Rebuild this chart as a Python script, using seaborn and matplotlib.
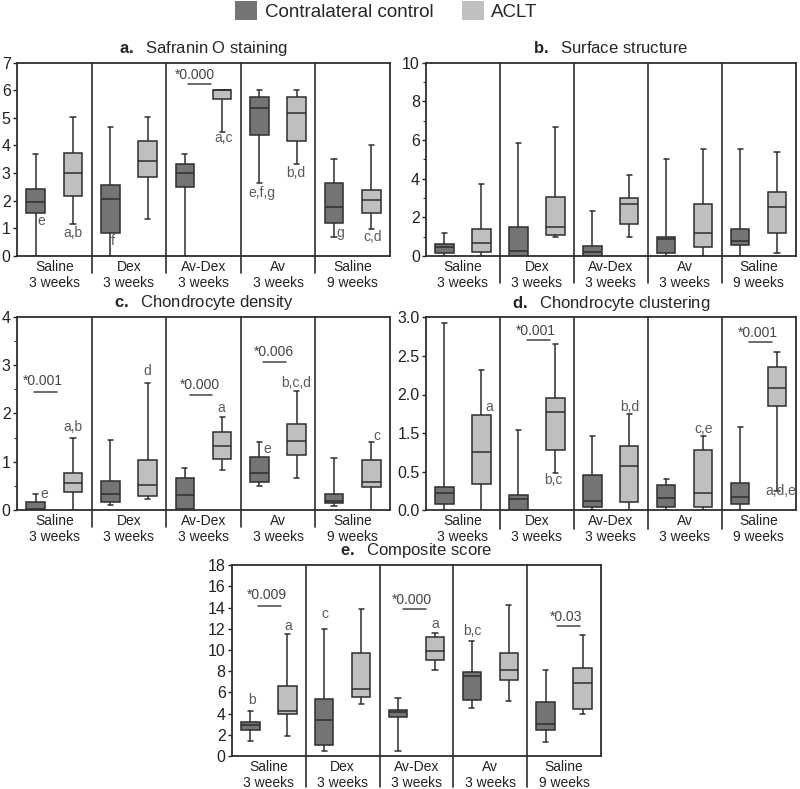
import numpy as np
import pandas as pd
import matplotlib
matplotlib.use("Agg")
import matplotlib.pyplot as plt
from matplotlib.patches import Patch
from matplotlib.ticker import MultipleLocator, FixedLocator
import seaborn as sns

# Groups and conditions
groups = ["Saline\n3 weeks", "Dex\n3 weeks", "Av-Dex\n3 weeks", "Av\n3 weeks", "Saline\n9 weeks"]
conds = ["Contralateral control", "ACLT"]

# five-number summaries: [min, q1, median, q3, max]
safranin_ctrl = [[0, 1.54, 1.94, 2.43, 3.68], [0, 0.84, 2.08, 2.56, 4.67], [0, 2.5, 3.0, 3.33, 3.68],
                 [2.66, 4.38, 5.35, 5.77, 6.0], [0.68, 1.21, 1.76, 2.63, 3.5]]
safranin_aclt = [[1.16, 2.17, 3.0, 3.72, 5.02], [1.34, 2.87, 3.43, 4.18, 5.02], [4.5, 5.67, 6.0, 6.0, 6.0],
                 [3.33, 4.18, 5.17, 5.77, 6.0], [0.99, 1.54, 2.02, 2.39, 4.0]]

surface_ctrl = [[0, 0.17, 0.48, 0.6, 1.17], [0, 0, 0.28, 1.5, 5.86], [0, 0, 0.19, 0.5, 2.34],
                [0, 0.17, 0.88, 1.0, 5.0], [0, 0.57, 0.79, 1.38, 5.53]]
surface_aclt = [[0, 0.22, 0.69, 1.38, 3.7], [0.98, 1.07, 1.52, 3.07, 6.69], [1.0, 1.67, 2.69, 3.0, 4.19],
                [0, 0.48, 1.19, 2.69, 5.53], [0.17, 1.19, 2.52, 3.29, 5.36]]

density_ctrl = [[0, 0, 0.02, 0.17, 0.33], [0.1, 0.16, 0.33, 0.6, 1.45], [0, 0.03, 0.32, 0.66, 0.87],
                [0.5, 0.57, 0.77, 1.1, 1.41], [0.08, 0.14, 0.19, 0.34, 1.08]]
density_aclt = [[0, 0.37, 0.55, 0.77, 1.5], [0.23, 0.3, 0.51, 1.03, 2.62], [0.82, 1.06, 1.32, 1.61, 1.92],
                [0.66, 1.13, 1.43, 1.79, 2.46], [0, 0.48, 0.57, 1.03, 1.41]]

clustering_ctrl = [[0, 0.1, 0.26, 0.365, 2.91], [0, 0, 0.17, 0.24, 1.24], [0, 0.05, 0.14, 0.54, 1.16],
                   [0, 0.05, 0.19, 0.39, 0.49], [0, 0.1, 0.21, 0.42, 1.3]]
clustering_aclt = [[0, 0.4, 0.9, 1.48, 2.18], [0.58, 0.94, 1.53, 1.75, 2.59], [0, 0.12, 0.69, 1.0, 1.5],
                   [0, 0.04, 0.27, 0.93, 1.15], [0.29, 1.62, 1.9, 2.23, 2.46]]

composite_ctrl = [[1.37, 2.43, 2.93, 3.21, 4.24], [0.5, 1.0, 3.37, 5.36, 12.0], [0.5, 3.68, 4.12, 4.3, 5.43],
                  [4.52, 5.3, 7.55, 7.95, 10.82], [1.34, 2.43, 3.06, 5.08, 8.11]]
composite_aclt = [[1.9, 3.93, 4.21, 6.58, 11.5], [4.93, 5.61, 6.3, 9.73, 13.88], [8.11, 9.01, 9.86, 11.26, 11.57],
                  [5.15, 7.17, 8.11, 9.67, 14.22], [3.93, 4.46, 6.86, 8.33, 11.38]]

# letters (x, y, text) and p-values (x, y, text, bar x0, bar x1, bar y)
safranin_letters = [(-0.18, 1.28, "e"), (0.25, 0.82, "a,b"), (0.79, 0.56, "f"), (2.27, 4.26, "a,c"),
                    (2.78, 2.29, "e,f,g"), (3.24, 3.02, "b,d"), (3.83, 0.82, "g"), (4.27, 0.70, "c,d")]
safranin_p = [(1.89, 6.55, "*0.000", 1.79, 2.10, 6.22)]

density_letters = [(-0.13, 0.34, "e"), (0.25, 1.72, "a,b"), (1.24, 2.88, "d"), (2.24, 2.12, "a"),
                   (3.24, 2.62, "b,c,d"), (2.85, 1.26, "e"), (4.32, 1.53, "c")]
density_p = [(-0.15, 2.66, "*0.001", -0.27, 0.04, 2.45), (1.95, 2.59, "*0.000", 1.82, 2.12, 2.39),
             (2.95, 3.26, "*0.006", 2.80, 3.10, 3.07)]

clustering_letters = [(0.35, 1.61, "a"), (1.23, 0.47, "b,c"), (2.25, 1.61, "b,d"), (3.26, 1.26, "c,e"),
                      (4.30, 0.29, "a,d,e")]
clustering_p = [(0.99, 2.79, "*0.001", 0.87, 1.18, 2.645), (3.99, 2.76, "*0.001", 3.87, 4.18, 2.62)]

composite_letters = [(-0.23, 5.24, "b"), (0.26, 12.26, "a"), (0.76, 13.35, "c"), (2.25, 12.41, "a"),
                     (2.76, 11.79, "b,c")]
composite_p = [(-0.03, 15.16, "*0.009", -0.15, 0.16, 14.13), (1.94, 14.75, "*0.000", 1.82, 2.13, 13.88),
               (4.03, 13.1, "*0.03", 3.90, 4.22, 12.23)]

dark = "#747474"
light = "#bfbfbf"
edge = "#2e2e2e"
palette = {conds[0]: dark, conds[1]: light}

sns.set_style("ticks")
plt.rcParams["font.family"] = ["Liberation Sans", "DejaVu Sans"]
plt.rcParams["mathtext.fontset"] = "custom"
plt.rcParams["mathtext.rm"] = "Liberation Sans"
plt.rcParams["mathtext.bf"] = "Liberation Sans:bold"


def long_frame(ctrl, aclt):
    rows = []
    for g, c, a in zip(groups, ctrl, aclt):
        for v in c:
            rows.append((g, conds[0], v))
        for v in a:
            rows.append((g, conds[1], v))
    return pd.DataFrame(rows, columns=["group", "cond", "value"])


def panel(ax, ctrl, aclt, letter, title, ylim, sep_drop, letters=(), pvals=()):
    df = long_frame(ctrl, aclt)
    sns.boxplot(data=df, x="group", y="value", hue="cond", order=groups, hue_order=conds,
                palette=palette, width=1.0, gap=0.5, whis=(0, 100), linecolor=edge,
                linewidth=1.1, fliersize=0, saturation=1, legend=False, ax=ax, capwidths=0.07)
    ax.set_xlim(-0.5, 4.5)
    ax.set_ylim(*ylim)
    for i in range(4):
        ax.axvline(i + 0.5, ymin=-sep_drop, ymax=1, clip_on=False, color=edge, lw=1.2)
    for s in ax.spines.values():
        s.set_visible(True)
        s.set_color(edge)
        s.set_linewidth(1.3)
    ax.set_xlabel("")
    ax.set_ylabel("")
    ax.tick_params(axis="x", length=0, pad=3, labelsize=10, colors="#222222")
    ax.tick_params(axis="y", which="major", length=3, width=1, pad=1.5, labelsize=11.5, colors="#222222")
    ax.tick_params(axis="y", which="minor", length=2, width=0.8)
    ax.set_title(r"$\mathbf{" + letter + ".}$  " + title, fontsize=12, pad=7)
    for x, y, t in letters:
        ax.text(x, y, t, ha="center", va="center", fontsize=10, color="#5a5a5a")
    for x, y, t, x0, x1, yb in pvals:
        ax.text(x, y, t, ha="center", va="center", fontsize=10, color="#444444")
        ax.plot([x0, x1], [yb, yb], color="#444444", lw=1.1)


fig = plt.figure(figsize=(8, 7.89), dpi=100)
ax_a = fig.add_axes([0.02125, 0.6755, 0.46625, 0.2452])
ax_b = fig.add_axes([0.5325, 0.6755, 0.4619, 0.2452])
ax_c = fig.add_axes([0.02125, 0.3536, 0.46625, 0.2450])
ax_d = fig.add_axes([0.5325, 0.3536, 0.4619, 0.2440])
ax_e = fig.add_axes([0.29, 0.0418, 0.46125, 0.2420])

panel(ax_a, safranin_ctrl, safranin_aclt, "a", "Safranin O staining", (0, 7), 0.09,
      safranin_letters, safranin_p)
ax_a.yaxis.set_major_locator(MultipleLocator(1))

panel(ax_b, surface_ctrl, surface_aclt, "b", "Surface structure", (0, 10), 0.14)
ax_b.yaxis.set_major_locator(MultipleLocator(2))
ax_b.yaxis.set_minor_locator(MultipleLocator(1))

panel(ax_c, density_ctrl, density_aclt, "c", "Chondrocyte density", (0, 4), 0.09,
      density_letters, density_p)
ax_c.yaxis.set_major_locator(MultipleLocator(1))
ax_c.yaxis.set_minor_locator(MultipleLocator(0.5))

panel(ax_d, clustering_ctrl, clustering_aclt, "d", "Chondrocyte clustering", (0, 3), 0.10,
      clustering_letters, clustering_p)
# tick labels as printed in the original (1.0 is missing there)
ax_d.yaxis.set_major_locator(FixedLocator(np.linspace(0, 3, 6)))
ax_d.set_yticklabels(["0.0", "0.5", "1.5", "2.0", "2.5", "3.0"])

panel(ax_e, composite_ctrl, composite_aclt, "e", "Composite score", (0, 18), 0.16,
      composite_letters, composite_p)
ax_e.yaxis.set_major_locator(MultipleLocator(2))

handles = [Patch(facecolor=dark, edgecolor="none"), Patch(facecolor=light, edgecolor="none")]
fig.legend(handles, conds, loc="center", bbox_to_anchor=(0.483, 0.986), ncol=2, frameon=False,
           fontsize=13.5, handlelength=1.17, handleheight=1.17, handletextpad=0.4,
           columnspacing=1.5, borderpad=0, borderaxespad=0)

fig.savefig("out.png", dpi=100)
